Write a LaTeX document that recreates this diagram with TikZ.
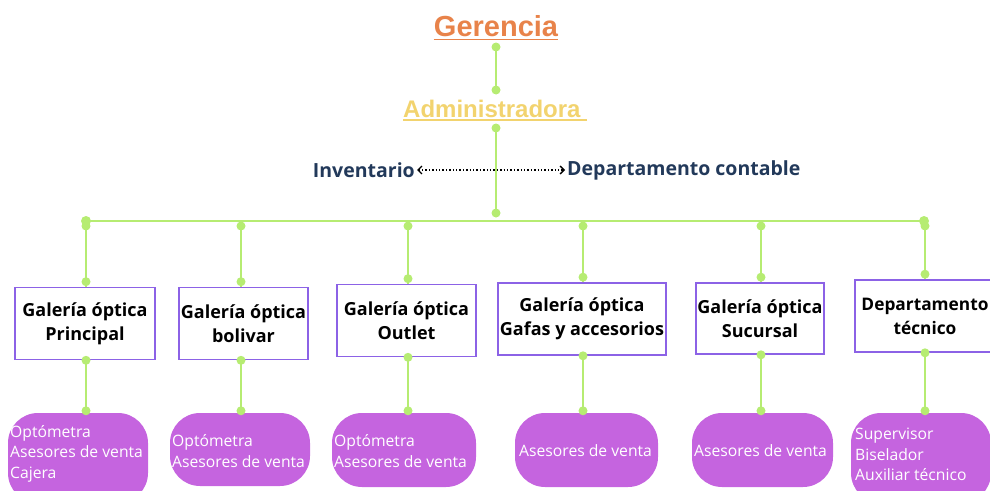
\documentclass[tikz,border=0pt]{standalone}
\usepackage{fontspec}
\setmainfont{Open Sans}
\newfontfamily\arialfont{Liberation Sans}
\usetikzlibrary{arrows.meta}
\definecolor{lime}{HTML}{B6EC72}
\definecolor{boxline}{HTML}{8C62E6}
\definecolor{bubblefill}{HTML}{C564DF}
\definecolor{gerorange}{HTML}{E8834A}
\definecolor{admyellow}{HTML}{F2D36E}
\definecolor{navy}{HTML}{22395A}
\tikzset{
  conn/.style={draw=lime, line width=2.6pt},
  dot/.style={circle, fill=lime, inner sep=0pt, minimum size=9pt},
  unitbox/.style={draw=boxline, line width=1.6pt, fill=white, align=center,
    font=\fontsize{18}{24}\selectfont\bfseries, text=black, inner sep=0pt},
  bubble/.style={fill=bubblefill, rounded corners=30pt, inner sep=0pt},
  btext/.style={anchor=west, align=left, text=white, inner sep=0pt,
    font=\fontsize{15.7}{20.5}\selectfont},
  side/.style={text=navy, font=\fontsize{19.5}{22}\selectfont\bfseries, inner sep=0pt},
}
\begin{document}
\begin{tikzpicture}[x=1pt,y=-1pt]
\useasboundingbox (0,0) rectangle (990,490);
% titles
\node[anchor=base, inner sep=0pt, text=gerorange, font=\arialfont\fontsize{29}{30}\selectfont\bfseries] (ger) at (496,36) {Gerencia};
\draw[gerorange, line width=1.8pt] ([yshift=-3.5pt]ger.base west) -- ([yshift=-3.5pt]ger.base east);
\node[anchor=base west, inner sep=0pt, text=admyellow, font=\arialfont\fontsize{24}{26}\selectfont\bfseries] (adm) at (403,117) {Administradora};
\draw[admyellow, line width=1.8pt] ([yshift=-3pt]adm.base west) -- ([yshift=-3pt,xshift=6pt]adm.base east);
% coordinates
\coordinate (g1) at (496,47);
\coordinate (a1) at (496,90);
\coordinate (a2) at (496,128);
\coordinate (hub) at (496,213);
\coordinate (busL) at (86,221);
\coordinate (busR) at (924,221);
% main trunk
\draw[conn] (g1) -- (a1);
\draw[conn] (a2) -- (hub);
\draw[conn] (busL) -- (busR);
% side labels
\node[side, anchor=east] (inv) at (415,170) {Inventario};
\node[side, anchor=west] (dep) at (567,170) {Departamento contable};
\draw[dotted, line width=1.4pt, black, {Straight Barb[length=4pt,width=8pt,line width=1.4pt]}-{Straight Barb[length=4pt,width=8pt,line width=1.4pt]}]
  ([xshift=2pt]inv.east) -- ([xshift=-2pt]dep.west);
% boxes
\node[unitbox, minimum width=140pt, minimum height=72pt] (u1) at (85,323.5) {Galería óptica\\Principal};
\node[unitbox, minimum width=129pt, minimum height=72pt] (u2) at (243.5,323.5) {Galería óptica\\bolivar};
\node[unitbox, minimum width=139pt, minimum height=72pt] (u3) at (406.5,320.5) {Galería óptica\\Outlet};
\node[unitbox, minimum width=168pt, minimum height=72pt] (u4) at (582,319) {Galería óptica\\Gafas y accesorios};
\node[unitbox, minimum width=128pt, minimum height=71pt] (u5) at (760,318.5) {Galería óptica\\Sucursal};
\node[unitbox, minimum width=140pt, minimum height=72pt, font=\fontsize{17.3}{24}\selectfont\bfseries] (u6) at (925,316) {Departamento\\técnico};
% bubbles
\node[bubble, minimum width=140pt, minimum height=90pt] (b1) at (78,458) {};
\node[bubble, minimum width=140pt, minimum height=73pt] (b2) at (240,449.5) {};
\node[bubble, minimum width=144pt, minimum height=74pt] (b3) at (404,450) {};
\node[bubble, minimum width=143pt, minimum height=74pt] (b4) at (586.5,450) {};
\node[bubble, minimum width=141pt, minimum height=74pt] (b5) at (762.5,450) {};
\node[bubble, minimum width=140pt, minimum height=90pt] (b6) at (921,458) {};
\node[btext] (t1) at (10,453.5) {Optómetra\\Asesores de venta\\Cajera};
\node[btext] (t2) at (172,451) {Optómetra\\Asesores de venta};
\node[btext] (t3) at (334,451) {Optómetra\\Asesores de venta};
\node[btext] (t4) at (519,451) {Asesores de venta};
\node[btext] (t5) at (694,451) {Asesores de venta};
\node[btext] (t6) at (855,454.5) {Supervisor\\Biselador\\Auxiliar técnico};
% drops from bus to boxes and from boxes to bubbles
\foreach \u/\b/\x in {u1/b1/86,u2/b2/241,u3/b3/408,u4/b4/583,u5/b5/761,u6/b6/925}{
  \coordinate (top\u) at (\x,226);
  \draw[conn] (top\u) -- (\x,0 |- \u.north);
  \draw[conn] (\x,0 |- \u.south) -- (\x,0 |- \b.north);
  \node[dot] at (top\u) {};
  \node[dot] at ([yshift=5pt]\x,0 |- \u.north) {};
  \node[dot] at (\x,0 |- \u.south) {};
  \node[dot] at ([yshift=2pt]\x,0 |- \b.north) {};
}
% dots on trunk
\node[dot] at (g1) {};
\node[dot] at (a1) {};
\node[dot] at (a2) {};
\node[dot] at (hub) {};
\node[dot, minimum size=10pt] at (busL) {};
\node[dot, minimum size=10pt] at (busR) {};
\end{tikzpicture}
\end{document}
